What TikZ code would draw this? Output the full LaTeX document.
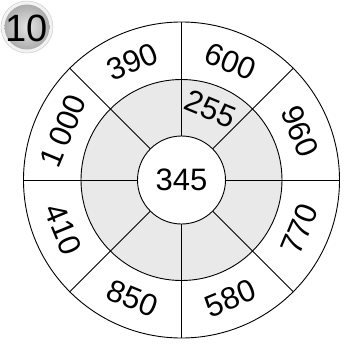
\documentclass[tikz,border=0pt]{standalone}
\usepackage{fontspec}
\setmainfont{Liberation Sans}
\begin{document}
\begin{tikzpicture}[x=1pt,y=1pt,
    ring/.style={circle,draw,line width=0.9pt,inner sep=0pt},
    num/.style={font=\fontsize{31}{31}\selectfont,inner sep=0pt}]
    \useasboundingbox (-181.5,-163) rectangle (162.5,180);
    \node[ring,minimum size=316pt] (rim) at (0,0) {};
    \node[ring,fill=gray!17,minimum size=201pt] (mid) at (0,0) {};
    \node[ring,fill=white,minimum size=88pt,num] (hub) at (0,0) {345};
    \foreach \a in {0,45,...,315}
        \draw[line width=0.9pt] (hub.\a) -- (rim.\a);
    \foreach \a/\r/\t in {157.5/67.5/1\,000, 112.5/22.5/390, 67.5/-22.5/600, 22.5/-67.5/960,
                          -22.5/67.5/770, -67.5/22.5/580, -112.5/-22.5/850, -157.5/-67.5/410}
        \node[num,rotate=\r] (n\a) at (\a:128) {\t};
    \node[num,rotate=-22.5] (inner) at (67.5:77) {255};
    \node[circle,fill=gray!10,draw=gray!40,line width=0.5pt,minimum size=52pt] (badge) at (-154.5,153) {};
    \shade[inner color=gray!20,outer color=gray!65] (-158,157) ++(3.5,-4) circle (22.5);
    \node[font=\fontsize{38}{38}\selectfont,inner sep=0pt] (ten) at (-155,152) {10};
\end{tikzpicture}
\end{document}
